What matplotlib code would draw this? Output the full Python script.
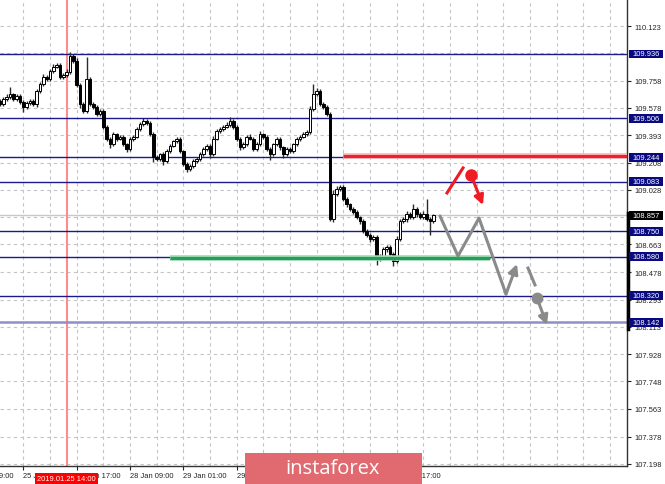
import matplotlib
matplotlib.use('Agg')
import matplotlib.pyplot as plt
from matplotlib.patches import Rectangle
from matplotlib.transforms import blended_transform_factory

#-----data (H1 bars, x = bar number)-------------------------------------------
closes = [109.602, 109.635, 109.648, 109.668, 109.635, 109.655, 109.615, 109.581, 109.608, 109.622,
          109.602, 109.688, 109.735, 109.782, 109.769, 109.822, 109.849, 109.862, 109.782, 109.795,
          109.815, 109.922, 109.889, 109.729, 109.602, 109.555, 109.769, 109.602, 109.581, 109.535,
          109.555, 109.448, 109.368, 109.334, 109.401, 109.368, 109.381, 109.334, 109.301, 109.368,
          109.381, 109.434, 109.468, 109.488, 109.475, 109.401, 109.247, 109.234, 109.267, 109.220,
          109.287, 109.321, 109.354, 109.368, 109.287, 109.200, 109.167, 109.187, 109.220, 109.234,
          109.267, 109.301, 109.321, 109.267, 109.368, 109.421, 109.434, 109.448, 109.461, 109.488,
          109.448, 109.368, 109.314, 109.334, 109.381, 109.368, 109.301, 109.334, 109.401, 109.381,
          109.301, 109.267, 109.334, 109.368, 109.314, 109.267, 109.301, 109.287, 109.334, 109.368,
          109.381, 109.401, 109.414, 109.568, 109.668, 109.688, 109.602, 109.581, 109.535, 108.833,
          109.000, 109.033, 109.047, 108.967, 108.933, 108.900, 108.880, 108.846, 108.819, 108.753,
          108.726, 108.700, 108.713, 108.566, 108.579, 108.632, 108.646, 108.599, 108.552, 108.700,
          108.819, 108.833, 108.866, 108.846, 108.900, 108.866, 108.846, 108.866, 108.833, 108.819,
          108.857]
first_open = 109.620
# wick lengths in 0.001
wick_up = [15, 12, 20, 50, 10, 15, 12, 10, 15, 12, 10, 15, 12, 20, 15, 15, 20, 12, 15, 12,
           20, 27, 15, 20, 10, 15, 147, 15, 10, 15, 12, 15, 10, 12, 15, 10, 12, 15, 10, 15,
           12, 15, 12, 20, 15, 10, 12, 15, 10, 15, 12, 15, 10, 15, 12, 10, 15, 12, 15, 10,
           12, 15, 10, 15, 20, 15, 12, 15, 20, 30, 10, 15, 12, 15, 10, 20, 12, 15, 20, 10,
           12, 15, 10, 15, 12, 10, 15, 12, 10, 15, 12, 15, 15, 20, 67, 20, 15, 12, 15, 15,
           25, 20, 15, 12, 15, 10, 12, 15, 10, 12, 15, 10, 12, 15, 20, 15, 12, 15, 10, 20,
           15, 12, 20, 15, 30, 15, 12, 20, 100, 15, 12]
wick_dn = [15, 12, 15, 10, 15, 12, 15, 30, 12, 15, 12, 20, 15, 10, 15, 12, 15, 10, 15, 12,
           15, 10, 12, 15, 25, 15, 12, 15, 12, 15, 12, 15, 15, 25, 12, 15, 10, 15, 20, 12,
           15, 10, 15, 12, 15, 12, 30, 15, 12, 25, 15, 12, 10, 15, 12, 15, 20, 15, 12, 10,
           15, 12, 15, 25, 12, 10, 15, 12, 10, 15, 12, 15, 20, 12, 15, 10, 15, 12, 10, 15,
           12, 40, 12, 15, 20, 25, 12, 15, 10, 15, 12, 10, 15, 12, 15, 10, 15, 12, 15, 15,
           20, 15, 12, 15, 20, 12, 15, 12, 20, 15, 12, 20, 15, 40, 15, 12, 20, 15, 35, 15,
           12, 15, 20, 12, 15, 20, 15, 12, 15, 90, 12]

level_prices = [109.936, 109.506, 109.244, 109.083, 108.750, 108.580, 108.320]
last_level = 108.142
bid = 108.857
tick_prices = [110.123, 109.758, 109.578, 109.393, 109.208, 109.028, 108.663, 108.478,
               108.293, 108.113, 107.928, 107.748, 107.563, 107.378, 107.198]
hidden_grid = [109.940, 108.845]
x_labels = ['24 Jan 09:00', '25 Jan 01:00', '25 Jan 17:00', '28 Jan 09:00', '29 Jan 01:00',
            '29 Jan 17:00', '30 Jan 09:00', '31 Jan 01:00', '31 Jan 17:00']
x_label_bars = [-9, 7, 23, 39, 55, 71, 87, 103, 119]
marker_bar = 20
marker_text = '2019.01.25 14:00'

resist = 109.255
resist_from = 103
support = 108.575
support_bars = [51, 147]

# forecast drawings (bar, price)
gray_path_x = [132.0, 137.4, 143.7, 151.8]
gray_path_y = [108.853, 108.585, 108.839, 108.331]
gray_arrow_to = (155.1, 108.532)
gray_dash_x = [158.4, 160.5]
gray_dash_y = [108.505, 108.392]
gray_dot = (161.1, 108.305)
gray_dot_to = (164.1, 108.124)
red_path_x = [134.1, 138.9]
red_path_y = [109.007, 109.174]
red_dot = (141.3, 109.127)
red_dot_to = (144.9, 108.926)

#-----figure--------------------------------------------------------------------
W, H = 665, 485
fig = plt.figure(figsize=(W / 100, H / 100), dpi=100)
fig.patch.set_facecolor('white')
ax = fig.add_axes([0, 18 / H, 627 / W, 467 / H])
ax.set_xlim(0, 188.1)
ax.set_ylim(107.1816, 110.3035)
for s in ['top', 'left']:
    ax.spines[s].set_visible(False)
ax.spines['right'].set_color('#333333')
ax.spines['bottom'].set_color('#333333')
ax.spines['right'].set_linewidth(1.0)
ax.spines['bottom'].set_linewidth(1.0)

font = 'Liberation Sans'
fs = 5.4

# grid
for k in range(-1, 189, 8):
    ax.axvline(k, color='#c4c4c4', lw=0.8, dashes=(3, 3), zorder=0)
for p in tick_prices + hidden_grid:
    ax.axhline(p, color='#c4c4c4', lw=0.8, dashes=(3, 3), zorder=0)

# bid line and date marker
ax.axhline(bid, color='#c8c8c8', lw=1.0, zorder=0.5)
ax.axvline(marker_bar, color='#ff8c8c', lw=1.5, zorder=0.6)

# levels
for p in level_prices:
    ax.axhline(p, color='#1a1a8c', lw=1.0, zorder=1)
ax.axhline(last_level, color='#8e8ec8', lw=1.8, zorder=1)

# candles
opens = [first_open] + closes[:-1]
for k, (o, c) in enumerate(zip(opens, closes)):
    hi = max(o, c) + wick_up[k] / 1000
    lo = min(o, c) - wick_dn[k] / 1000
    ax.vlines(k, lo, hi, color='#2a2a2a', lw=1.0, zorder=2)
    fc = 'white' if c >= o else 'black'
    ax.add_patch(Rectangle((k - 0.38, min(o, c)), 0.76, max(abs(c - o), 0.005),
                           facecolor=fc, edgecolor='black', lw=0.7, zorder=3))

# resistance / support
ax.plot([resist_from, 188.1], [resist, resist], color='#ffb0b0', lw=4, zorder=4,
         solid_capstyle='butt')
ax.plot([resist_from, 188.1], [resist, resist], color='#e8232e', lw=2.2, zorder=4,
         solid_capstyle='butt')
ax.plot(support_bars, [support, support], color='#9ad8b0', lw=4, zorder=4, solid_capstyle='butt')
ax.plot(support_bars, [support, support], color='#22a05a', lw=2.2, zorder=4, solid_capstyle='butt')

# forecast arrows
gray = '#8a8a8a'
ax.plot(gray_path_x, gray_path_y, color=gray, lw=2.2, zorder=5, solid_capstyle='round')
ax.annotate('', xy=gray_arrow_to, xytext=(gray_path_x[-1], gray_path_y[-1]),
            arrowprops=dict(arrowstyle='-|>', color=gray, lw=2.2, mutation_scale=14,
                            shrinkA=0, shrinkB=0), zorder=5)
ax.plot(gray_dash_x, gray_dash_y, color=gray, lw=2.2, zorder=5)
ax.annotate('', xy=gray_dot_to, xytext=gray_dot,
            arrowprops=dict(arrowstyle='-|>', color=gray, lw=2.2, mutation_scale=14,
                            shrinkA=0, shrinkB=0), zorder=5)
ax.plot(*gray_dot, 'o', color=gray, ms=7.5, zorder=6)

red = '#ee1c24'
ax.plot(red_path_x, red_path_y, color=red, lw=2.2, zorder=5)
ax.annotate('', xy=red_dot_to, xytext=red_dot,
            arrowprops=dict(arrowstyle='-|>', color=red, lw=2.2, mutation_scale=14,
                            shrinkA=0, shrinkB=0), zorder=5)
ax.plot(*red_dot, 'o', color=red, ms=8, zorder=6)

#-----right price scale---------------------------------------------------------
ax.yaxis.tick_right()
ax.set_yticks(tick_prices)
ax.set_yticklabels(['%.3f' % p for p in tick_prices], fontsize=fs, family=font)
ax.tick_params(axis='y', length=3, width=0.8, pad=2, colors='#222222')
ax.set_xticks(x_label_bars[1:])
ax.set_xticklabels([])
ax.tick_params(axis='x', length=3, width=0.8, colors='#222222')

tr = blended_transform_factory(fig.transFigure, ax.transData)
# black bar on the price scale
fig.add_artist(plt.Line2D([627.5 / W, 627.5 / W], [108.870, 108.100], transform=tr,
                          color='black', lw=2.5, zorder=4))
boxes = [(p, '#0a0a80') for p in level_prices + [last_level]] + [(bid, 'black')]
for p, col in boxes:
    fig.add_artist(Rectangle((629 / W, p - 0.029), 34 / W, 0.058, transform=tr,
                             facecolor=col, edgecolor='none', zorder=5))
    fig.text(632 / W, p, '%.3f' % p, transform=tr, color='white', fontsize=fs,
             family=font, va='center', ha='left', zorder=6)

#-----time scale----------------------------------------------------------------
for k, lab in zip(x_label_bars, x_labels):
    ax.text(k * 1.0, -0.012, lab, transform=ax.get_xaxis_transform(), fontsize=fs,
            family=font, va='top', ha='left', color='#222222', clip_on=False)
fig.add_artist(Rectangle((35 / W, 0), 63 / W, 11 / H, transform=fig.transFigure,
                         facecolor='#ff0000', edgecolor='none', zorder=5))
fig.text(66.5 / W, 5.5 / H, marker_text, color='white', fontsize=fs, family=font,
         ha='center', va='center', zorder=6)

# logo
fig.add_artist(Rectangle((245 / W, 0), 177 / W, 31 / H, transform=fig.transFigure,
                         facecolor='#e06a70', edgecolor='none', zorder=7))
fig.text(333 / W, 16 / H, 'instaforex', color='white', fontsize=14.5, family='Open Sans',
         ha='center', va='center', zorder=8)

fig.savefig('out.png', dpi=100)
